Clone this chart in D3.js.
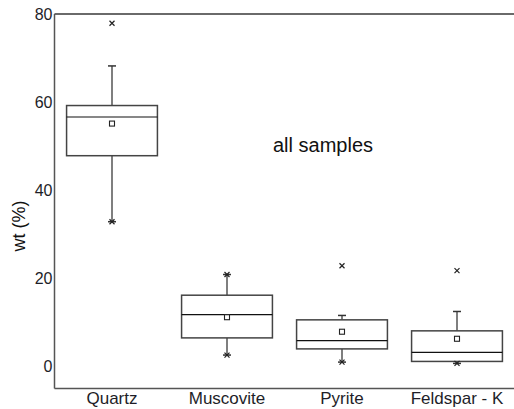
<!DOCTYPE html>
<html>
<head>
<meta charset="utf-8">
<script src="https://cdn.jsdelivr.net/npm/d3@7"></script>
<style>
  body { margin: 0; background: #fff; }
  svg { display: block; font-family: "Liberation Sans", Arial, sans-serif; }
</style>
</head>
<body>
<div id="chart"></div>
<script>
// box statistics (wt %)
var categories = ["Quartz", "Muscovite", "Pyrite", "Feldspar - K"];
var q1 = [47.8, 6.4, 3.9, 1.05];
var median = [56.6, 11.7, 5.8, 3.1];
var q3 = [59.2, 16.1, 10.5, 8.0];
var whiskerLow = [32.8, 2.5, 0.9, 0.6];
var whiskerHigh = [68.2, 20.8, 11.5, 12.4];
var means = [55.1, 11.1, 7.8, 6.2];
var extremeLow = [32.8, 2.5, 0.9, 0.6];
var extremeHigh = [77.9, 20.8, 22.8, 21.7];
var yTicks = [0, 20, 40, 60, 80];

var width = 514, height = 409;
var plotLeft = 54.5, plotTop = 14, plotBottom = 388.5;

var svg = d3.select("#chart").append("svg")
  .attr("width", width)
  .attr("height", height);

var xScale = d3.scaleBand()
  .domain(categories)
  .range([plotLeft, 514.5])
  .padding(0);

var yScale = d3.scaleLinear()
  .domain([-5.1, 80])
  .range([plotBottom, plotTop]);

var boxW = xScale.bandwidth() * 0.79;
var capW = 8;

var data = categories.map(function(c, i) {
  return { name: c, q1: q1[i], med: median[i], q3: q3[i], lo: whiskerLow[i], hi: whiskerHigh[i],
           mean: means[i], xlo: extremeLow[i], xhi: extremeHigh[i] };
});

function cx(d) { return xScale(d.name) + xScale.bandwidth() / 2; }

// frame: top line + left and bottom axes
svg.append("line")
  .attr("x1", plotLeft).attr("x2", 514)
  .attr("y1", plotTop).attr("y2", plotTop)
  .style("stroke", "#6a6a6a").style("stroke-width", 2);

var yAxis = svg.append("g")
  .attr("transform", "translate(" + plotLeft + ",0)")
  .call(d3.axisLeft(yScale).tickValues(yTicks).tickSize(0).tickPadding(2));
yAxis.select(".domain").attr("d", "M0," + plotTop + "V" + plotBottom)
  .style("stroke", "#555").style("stroke-width", 1.5);
yAxis.selectAll("text").style("font-size", "16px").style("fill", "#1e1e28")
  .attr("dy", "0.36em");

var xAxis = svg.append("g")
  .attr("transform", "translate(0," + plotBottom + ")")
  .call(d3.axisBottom(xScale).tickSize(0).tickPadding(3));
xAxis.select(".domain").attr("d", "M" + plotLeft + ",0H514")
  .style("stroke", "#555").style("stroke-width", 1.5);
xAxis.selectAll("text").style("font-size", "17px").style("fill", "#1e1e28");

// y label
svg.append("text")
  .attr("transform", "translate(25,226) rotate(-90)")
  .attr("text-anchor", "middle")
  .style("font-size", "18px")
  .style("fill", "#111")
  .text("wt (%)");

svg.append("text")
  .attr("x", 323).attr("y", 152)
  .attr("text-anchor", "middle")
  .style("font-size", "20px")
  .style("fill", "#111")
  .text("all samples");

var g = svg.selectAll(".box").data(data).enter().append("g").attr("class", "box");

// whiskers
g.append("line")
  .attr("x1", cx).attr("x2", cx)
  .attr("y1", function(d) { return yScale(d.q3); })
  .attr("y2", function(d) { return yScale(d.hi); })
  .style("stroke", "#555").style("stroke-width", 1.5);
g.append("line")
  .attr("x1", cx).attr("x2", cx)
  .attr("y1", function(d) { return yScale(d.q1); })
  .attr("y2", function(d) { return yScale(d.lo); })
  .style("stroke", "#555").style("stroke-width", 1.5);
// caps
g.append("line")
  .attr("x1", function(d) { return cx(d) - capW / 2; })
  .attr("x2", function(d) { return cx(d) + capW / 2; })
  .attr("y1", function(d) { return yScale(d.hi); })
  .attr("y2", function(d) { return yScale(d.hi); })
  .style("stroke", "#333").style("stroke-width", 1.5);
g.append("line")
  .attr("x1", function(d) { return cx(d) - capW / 2; })
  .attr("x2", function(d) { return cx(d) + capW / 2; })
  .attr("y1", function(d) { return yScale(d.lo); })
  .attr("y2", function(d) { return yScale(d.lo); })
  .style("stroke", "#333").style("stroke-width", 1.5);

// box
g.append("rect")
  .attr("x", function(d) { return cx(d) - boxW / 2; })
  .attr("width", boxW)
  .attr("y", function(d) { return yScale(d.q3); })
  .attr("height", function(d) { return yScale(d.q1) - yScale(d.q3); })
  .style("fill", "#fff").style("stroke", "#444").style("stroke-width", 1.5);

// median
g.append("line")
  .attr("x1", function(d) { return cx(d) - boxW / 2; })
  .attr("x2", function(d) { return cx(d) + boxW / 2; })
  .attr("y1", function(d) { return yScale(d.med); })
  .attr("y2", function(d) { return yScale(d.med); })
  .style("stroke", "#111").style("stroke-width", 1.2);

// mean square
g.append("rect")
  .attr("x", function(d) { return cx(d) - 2.5; })
  .attr("y", function(d) { return yScale(d.mean) - 2.5; })
  .attr("width", 5).attr("height", 5)
  .style("fill", "#fff").style("stroke", "#222").style("stroke-width", 1.1);

// x markers at the extremes
function cross(sel, key) {
  sel.append("path")
    .attr("d", function(d) {
      var x = cx(d), y = yScale(d[key]), s = 2.5;
      return "M" + (x - s) + "," + (y - s) + "L" + (x + s) + "," + (y + s) +
             "M" + (x - s) + "," + (y + s) + "L" + (x + s) + "," + (y - s);
    })
    .style("stroke", "#222").style("stroke-width", 1.2).style("fill", "none");
}
cross(g, "xhi");
cross(g, "xlo");
</script>
</body>
</html>
